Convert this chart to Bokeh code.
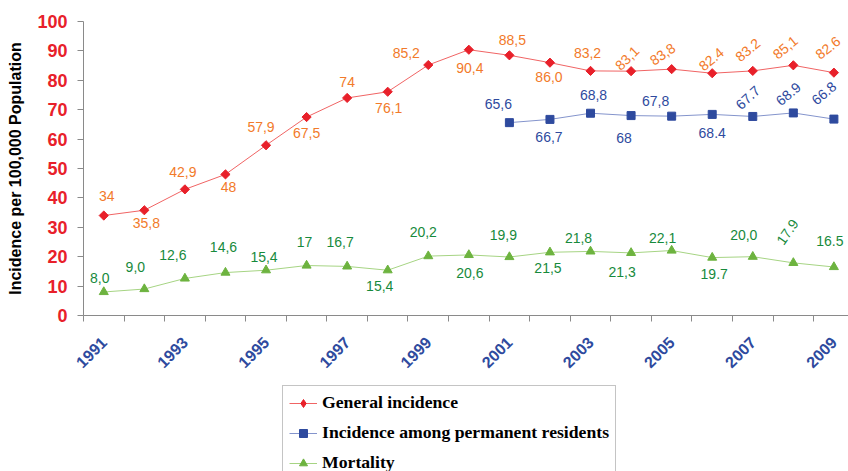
import math

from bokeh.core.properties import value
from bokeh.embed import file_html
from bokeh.layouts import column
from bokeh.models import ColumnDataSource, FixedTicker, Legend, LegendItem, Range1d
from bokeh.plotting import figure
from bokeh.resources import INLINE

# ---- data -------------------------------------------------------------
years = list(range(1991, 2010))
general = [34, 35.8, 42.9, 48, 57.9, 67.5, 74, 76.1, 85.2, 90.4,
           88.5, 86.0, 83.2, 83.1, 83.8, 82.4, 83.2, 85.1, 82.6]
general_labels = ["34", "35,8", "42,9", "48", "57,9", "67,5", "74", "76,1", "85,2", "90,4",
                  "88,5", "86,0", "83,2", "83,1", "83,8", "82.4", "83.2", "85,1", "82.6"]

resident_years = list(range(2001, 2010))
residents = [65.6, 66.7, 68.8, 68, 67.8, 68.4, 67.7, 68.9, 66.8]
resident_labels = ["65,6", "66,7", "68,8", "68", "67,8", "68.4", "67.7", "68.9", "66.8"]

mortality = [8.0, 9.0, 12.6, 14.6, 15.4, 17, 16.7, 15.4, 20.2, 20.6,
             19.9, 21.5, 21.8, 21.3, 22.1, 19.7, 20.0, 17.9, 16.5]
mortality_labels = ["8,0", "9,0", "12,6", "14,6", "15,4", "17", "16,7", "15,4", "20,2", "20,6",
                    "19,9", "21,5", "21,8", "21,3", "22,1", "19.7", "20,0", "17.9", "16.5"]

series_names = ["General incidence", "Incidence among permanent residents", "Mortality"]

year_ticks = list(range(1991, 2010, 2))
y_ticks = list(range(0, 101, 10))

# ---- label placement (screen px offsets, degrees) ---------------------
general_dx = [3, 2, -2, 3, -5, 0, 0, 1, -22, 1, 3, -1, -3, -4, -9, -1, -5, -8, -6]
general_dy = [-20, 13, -17, 13, -18, 16, -16, 16, -12, 18, -15, 14, -18, -13, -15, -14, -21, -18, -25]
general_rot = [0] * 13 + [45, 35, 40, 40, 40, 38]

resident_dx = [-11, -1, 3, -7, -16, 0, -5, -5, -10]
resident_dy = [-19, 18, -18, 22, -15, 19, -19, -19, -26]
resident_rot = [0] * 6 + [43, 40, 40]

mortality_dx = [-4, -9, -12, -2, -2, -2, -7, -8, -5, 1, -6, -2, -12, -9, -9, 2, -9, -6, -4]
mortality_dy = [-14, -22, -23, -26, -13, -24, -24, 16, -24, 18, -22, 16, -13, 19, -13, 16, -22, -31, -26]
mortality_rot = [0] * 17 + [55, 0]

RED = "#E8202A"
ORANGE = "#F27A2A"
BLUE = "#2E4A9E"
GREEN_MARK = "#6DB33F"
GREEN_TEXT = "#178A3C"
AXIS_GRAY = "#8A8A8A"
RED_LINE = "#F06464"
BLUE_LINE = "#8494CC"
GREEN_LINE = "#A6D483"

p = figure(width=848, height=385, output_backend="svg", toolbar_location=None,
           x_range=Range1d(1990.5, 2009.36), y_range=Range1d(0, 100),
           min_border_left=83, min_border_right=0, min_border_top=21, min_border_bottom=70)
p.outline_line_color = None
p.xgrid.visible = False
p.ygrid.visible = False
p.background_fill_color = "white"
p.border_fill_color = "white"

# y axis
p.yaxis.ticker = FixedTicker(ticks=y_ticks)
p.yaxis.axis_line_color = AXIS_GRAY
p.yaxis.major_tick_line_color = AXIS_GRAY
p.yaxis.major_tick_out = 6
p.yaxis.major_tick_in = 0
p.yaxis.minor_tick_line_color = None
p.yaxis.major_label_text_color = RED
p.yaxis.major_label_text_font = "Liberation Sans"
p.yaxis.major_label_text_font_style = "bold"
p.yaxis.major_label_text_font_size = "18px"
p.yaxis.major_label_standoff = 10
p.yaxis.axis_label = "Incidence per 100,000 Population"
p.yaxis.axis_label_text_font = "Liberation Sans"
p.yaxis.axis_label_text_font_style = "bold"
p.yaxis.axis_label_text_font_size = "16px"
p.yaxis.axis_label_text_color = "black"
p.yaxis.axis_label_standoff = 10

# x axis: year labels every other year, ticks on every category boundary
p.xaxis.ticker = FixedTicker(ticks=year_ticks, minor_ticks=[y - 0.5 for y in years] + [2009.5])
p.xaxis.axis_line_color = AXIS_GRAY
p.xaxis.major_tick_line_color = None
p.xaxis.minor_tick_line_color = AXIS_GRAY
p.xaxis.minor_tick_out = 6
p.xaxis.minor_tick_in = 0
p.xaxis.major_label_orientation = math.pi / 4
p.xaxis.major_label_text_color = BLUE
p.xaxis.major_label_text_font = "Liberation Sans"
p.xaxis.major_label_text_font_style = "bold"
p.xaxis.major_label_text_font_size = "16px"
p.xaxis.major_label_standoff = 18

# ---- series -------------------------------------------------------------
gen_src = ColumnDataSource(dict(x=years, y=general, t=general_labels,
                                dx=general_dx, dy=general_dy,
                                a=[math.radians(v) for v in general_rot]))
res_src = ColumnDataSource(dict(x=resident_years, y=residents, t=resident_labels,
                                dx=resident_dx, dy=resident_dy,
                                a=[math.radians(v) for v in resident_rot]))
mor_src = ColumnDataSource(dict(x=years, y=mortality, t=mortality_labels,
                                dx=mortality_dx, dy=mortality_dy,
                                a=[math.radians(v) for v in mortality_rot]))

styles = [
    (gen_src, RED_LINE, dict(marker="square", angle=math.pi / 4, size=6.5, fill_color=RED, line_color=RED)),
    (res_src, BLUE_LINE, dict(marker="square", size=8, fill_color=BLUE, line_color=BLUE)),
    (mor_src, GREEN_LINE, dict(marker="triangle", size=9, fill_color=GREEN_MARK, line_color=GREEN_MARK)),
]

for src, lc, mk in styles:
    p.line("x", "y", source=src, line_color=lc, line_width=1)
    p.scatter("x", "y", source=src, **mk)

for src, color in ((gen_src, ORANGE), (res_src, BLUE), (mor_src, GREEN_TEXT)):
    p.text("x", "y", text="t", source=src, x_offset="dx", y_offset="dy", angle="a",
           text_align="center", text_baseline="middle",
           text_font=value("Liberation Sans"), text_font_size="14px", text_color=color)

# ---- legend strip under the chart ----------------------------------------
# The strip shares the series sources; its ranges keep the series themselves
# out of view so that only the legend samples show.
lp = figure(width=848, height=86, output_backend="svg", toolbar_location=None,
            x_range=Range1d(0, 1), y_range=Range1d(0, 1),
            min_border_left=0, min_border_right=0, min_border_top=0, min_border_bottom=0)
lp.axis.visible = False
lp.grid.visible = False
lp.outline_line_color = None
lp.border_fill_color = "white"

# legend samples ignore marker angle, so the red sample uses a diamond shape
legend_markers = [
    dict(marker="diamond", size=9, fill_color=RED, line_color=RED),
    styles[1][2],
    styles[2][2],
]

items = []
for name, (src, lc, _), mk in zip(series_names, styles, legend_markers):
    r_line = lp.line("x", "y", source=src, line_color=lc, line_width=1)
    r_mark = lp.scatter("x", "y", source=src, **mk)
    items.append(LegendItem(label=name, renderers=[r_line, r_mark]))

legend = Legend(items=items, location=(199, -9))
legend.margin = 0
legend.padding = 6
legend.spacing = 9
legend.glyph_width = 28
legend.glyph_height = 20
legend.label_height = 20
legend.label_standoff = 5
legend.label_text_font = "Liberation Serif"
legend.label_text_font_style = "bold"
legend.label_text_font_size = "17.7px"
legend.label_text_color = "black"
legend.border_line_color = AXIS_GRAY
legend.border_line_width = 1
legend.background_fill_color = "white"
lp.add_layout(legend, "center")

open("out.html", "w").write(file_html(column(p, lp), INLINE))
